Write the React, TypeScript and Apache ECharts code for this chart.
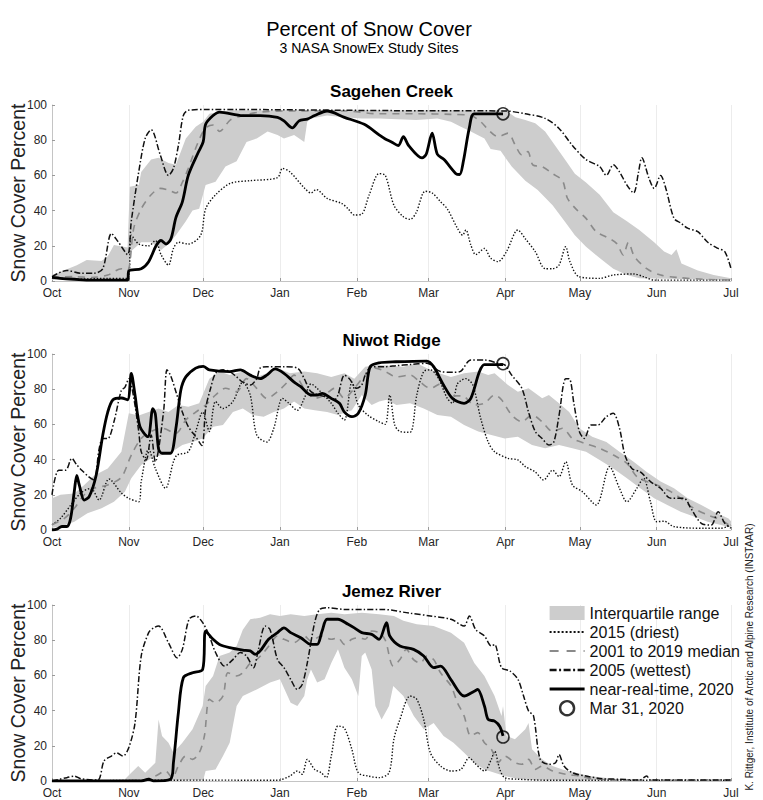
import React, { useEffect, useRef } from 'react';
import * as echarts from 'echarts';

// ---------- axis definitions ----------
const MONTH_DAYS = [0, 31, 61, 92, 123, 152, 183, 213, 244, 274];
const MONTH_NAMES = ['Oct', 'Nov', 'Dec', 'Jan', 'Feb', 'Mar', 'Apr', 'May', 'Jun', 'Jul'];
const SITE_NAMES = ['Sagehen Creek', 'Niwot Ridge', 'Jemez River'];
const MARKER_DAY = 182; // Mar 31
const MARKER_VALUES = [95, 94.5, 25];

// ---------- Sagehen Creek ----------
const sagIqrHigh = [[0,3.4],[3,5],[10,9],[14,12],[20,11.4],[22.5,14],[25,20.5],[30.5,19],[31.4,53.6],[35,54.5],[36,62],[40,69],[43,70],[47,67],[50,66],[54,81],[58,87.7],[61,90.5],[63.5,95],[72,97],[183,97],[187,93],[191,91.5],[195,89.6],[199,85],[203,77],[207,69],[211,61],[215.5,56],[221,49],[226.5,39],[232,34],[237,29],[243,22],[247,16.7],[250,14.8],[252,18],[254,10],[260.6,6],[267,3.4],[274,1.5]];
const sagIqrLow = [[0,0.5],[22.5,0.5],[30.5,1.5],[32,17],[36,22],[40,22],[44,17.6],[47,21],[50,26],[54,34],[56.7,40],[59.4,41],[62,54.5],[66,56.4],[70,65],[74.5,68],[78.5,79],[82.6,81],[87,85],[91,83],[93.6,81],[97.7,83],[101.8,79],[103,90.5],[104.5,92.4],[111,94],[118,93],[125,92.4],[132,92.4],[147,91.5],[155.5,92.4],[161,90.5],[165,87.7],[169,85],[174.5,81],[177,75],[181,74],[185.5,65],[191,57],[196,51.7],[202,43],[207,33.7],[211,26],[215.5,19.5],[221,13],[226.5,7],[232,3.4],[237,1.5],[274,0.5]];
const sagMedian = [[0,2],[9,2.5],[16,2],[22.5,3.4],[28,7],[30.5,6],[33,30],[36,41],[40,49],[43.7,52.6],[47,51.7],[50,50],[52.6,56],[55,64],[59,79],[62,87],[65,88.6],[67.6,85],[72,91.5],[77,94],[84,96],[98,96.6],[118,96.6],[132,95],[147,95],[161,94.7],[169,94],[173,90.5],[176,86],[180,82],[184,84],[187,77],[189.6,71.6],[192,73.5],[194,66],[197.8,65],[202,61],[206,57],[208,47],[211.4,41],[215.5,35.6],[219.6,28],[223.7,25],[227.8,21.4],[230.5,14.8],[232.6,22],[235,14],[240,7],[245.6,3.4],[252.4,2],[263,1],[274,0.5]];
const sag2015 = [[0,2],[9,1],[22.5,1.5],[30.5,1.5],[32,26],[35,21],[39,20],[41.7,23],[44,15],[47,9],[49,18.5],[51,22],[55,21],[60,26],[62,41],[66,49],[72,55.5],[80,57],[91,58.7],[93,64],[96,62],[102,52.6],[104.5,50],[106.6,52],[111,47],[117,44],[119.5,41],[122,37.5],[125,38],[128,49],[132,61],[134.5,60],[138,43],[141.8,36.5],[144.5,35],[147,39],[150.6,51],[153.4,50],[156.8,45],[159.5,41],[163.6,30],[165.7,26],[167,29],[169,20.5],[171,15],[174.5,18.5],[177,13],[180,11],[183.4,16.7],[188,29],[191,24],[195,16.7],[199,7],[202,7],[204.6,9],[207.3,19.5],[209,11],[212.6,2.5],[221,1.5],[226.5,3.4],[234.7,4],[238.7,2.5],[243,0.5],[274,0.5]];
const sag2005 = [[0,2.5],[6,6],[11.6,4.4],[17,4.4],[20.5,7],[24,27],[26.6,22.5],[30.5,15],[32,34],[35,62],[37.6,81],[40,86],[43.7,71.6],[47,60],[49,64],[51,77],[53,94],[55,97],[63.5,97.5],[138,96.8],[183,96.6],[191,95],[199,92.4],[204.6,86.7],[210,77],[215.5,69],[221,65],[223.7,60],[226.5,66],[229,62],[232,54.5],[234.7,50],[236.7,62],[238,70],[241,58],[243,52.6],[245.6,60],[247.7,52.6],[251,35.6],[253.7,33],[256.5,30],[260.6,28],[264.6,22],[268.8,18.5],[271.5,16.7],[274,7]];
const sag2020 = [[0,2],[3.4,1.5],[9,1],[16,0.5],[30.5,0.5],[31,5.7],[36,7],[39,11],[42,20],[44,23],[46,21],[48,24],[50,36],[52.6,45],[55,60],[59,73],[61,79],[62,89],[65,94],[67.6,96],[77,94],[84,94],[91,93],[93.6,91],[97,87],[99.7,91],[103,92],[106,94],[111,96.6],[118,93],[126,89],[132,83],[134.5,80.7],[137,79],[139.7,77],[141.8,82],[143.9,77],[149.3,70],[151,72],[153.4,84],[155.5,72],[158.2,69],[163,61],[164.5,60.5],[166,68],[168.4,87],[170.4,95],[182,95]];

// ---------- Niwot Ridge ----------
const niwIqrHigh = [[0,18],[3.4,20],[9,20.8],[13,25.6],[17,31],[22.5,35],[28,44.5],[31,66.3],[35,65],[39,67],[43,69],[47,67],[51,71],[55,70],[59.4,72],[63.5,86],[67.6,90],[71.7,88],[77,90],[82.6,87],[86.7,89],[91,92],[96,89],[101.8,90],[107,89],[112.7,87],[118,89],[122,86],[126.4,92.8],[132,93.8],[141.8,92.8],[147.2,94.7],[154,90],[161,87],[166.3,89],[172,90],[176,88],[178.6,89],[184,82.4],[188,78.6],[192.3,80.5],[197.8,74.8],[200.5,76.7],[204.6,72],[208.7,67],[212.8,57.8],[218,53],[223.7,50],[229,44.5],[234.7,38.8],[240,33],[245.6,27.5],[251,23.7],[256.5,18],[262,14.2],[267,10.4],[273,6.6],[274,5]];
const niwIqrLow = [[0,1.3],[3.4,1.9],[9,4.7],[14.3,9.5],[20,12.3],[25,16],[29.4,21.8],[32,29.4],[36,37],[40,40.7],[44.4,42.6],[48.5,44.5],[52.6,48.3],[56.7,50],[60.8,52],[65,58.7],[69,59.7],[73,67],[77,69],[81,65.3],[85.4,64.4],[89.5,67],[93.6,69],[97.7,73],[101.8,69],[106,68],[111,67],[115.4,65.3],[121,68],[125,76.7],[129,71],[132,73],[135,74],[139,71],[144.5,72],[150,69],[155.5,65.3],[161,64.4],[166.3,59.7],[172,56],[177.3,54],[182.7,52],[188,53],[193.7,48.3],[199,46.4],[204.6,48.3],[210,46.4],[215.5,44.5],[221,39.8],[226.5,35],[232,29.4],[237.4,23.7],[243,18],[248.3,14.2],[253.7,10.4],[259,7.6],[264.6,4.7],[270,2.8],[274,1.3]];
const niwMedian = [[0,3],[5,6.6],[9,12.3],[13,20],[17,23.7],[22.5,25.6],[28,30],[32,42.6],[36,52],[40,56],[44.4,57.8],[50,55],[54,62.5],[58,67],[62,71],[66,76.7],[70,80.5],[74.5,78.6],[78.5,86],[82.6,80.5],[86.7,74.8],[91,78.6],[95,84],[97.7,88],[101.8,80.5],[106,74.8],[110,76.7],[114,80.5],[118,74.8],[122,80.5],[126.4,88],[130.5,92],[134.5,90],[139,87],[144.5,88],[148.6,84],[152.7,80.5],[156.8,83],[161,76.7],[166.3,75.8],[170.4,71],[174.5,72],[178.6,76.7],[181.4,74],[185.5,65.3],[189.6,61.5],[193.7,65.3],[197.8,61.5],[202,56],[206,57.8],[210,52],[215.5,49],[221,46.4],[226.5,42.6],[232,37.9],[236,30.3],[240,27.5],[244,25.6],[249.7,21.8],[253.7,18],[259,12.3],[264.6,8.5],[270,5.7],[274,1.9]];
const niw2015 = [[0,3],[3.4,6.6],[7.5,14],[11.6,21],[15.7,23.7],[19,17],[23,29],[28,21],[31,18],[35,16],[36,27.5],[39,46],[41.7,35],[45.8,23.7],[49,38.8],[50.5,42.6],[55,44.5],[58,56],[60.8,67],[63.5,56],[66,73],[69,69],[73,73],[77,84],[80,76.7],[82.6,54],[86.7,50],[89.5,57.8],[93,74.8],[95.6,72],[99,68],[101.8,74.8],[104.5,83],[107,80.5],[112.7,72],[115.4,66.3],[118,62.5],[121,84],[123.6,71],[127.7,65],[132,61.5],[134.5,60],[136.3,76.7],[138.3,59.7],[140.4,56],[144.5,55.5],[147.2,76.7],[150,90],[152.7,91],[156,86],[159.5,74.8],[161.6,72],[163.6,83],[167,86],[169.8,82.4],[173,63.4],[176,50],[178.6,44.5],[184,40.7],[188,39.8],[191,36],[195,33],[198.4,28.4],[202,34],[204.6,30.3],[207.3,38.8],[210,25.6],[214,21.8],[219.6,14.2],[225,36],[229,23.7],[232,16],[236,23.7],[238.7,29.4],[241.5,16],[244,4.7],[247,5],[251,1.9],[263,1],[270,1],[274,2.8]];
const niw2005 = [[0,20],[2.7,34],[5.5,34],[8,40.7],[10,37],[12,34],[15,30],[17,28.4],[19,46],[20.5,52],[22.5,52],[25,61.5],[28,79.5],[29.4,81],[31,86],[32.8,76.7],[35,56],[36,44.5],[38,39.8],[40,54],[41.7,38.8],[45,67],[46.4,91],[47.8,88],[50,78.6],[52.6,67],[55,58.7],[58,53],[60.5,48],[62,69],[64,80.5],[66,89],[69,91],[71.7,90],[74.5,87],[77,84],[80,82.4],[82.6,86],[84,92],[86.7,92.8],[93.6,92.8],[99,92],[101.8,86],[104.5,78.6],[110,75.8],[114,74],[115.4,76.7],[118,88],[120,86],[123,80.5],[125,82.4],[126.4,88],[129,92.8],[134.5,92.8],[139,93.4],[144.5,94],[151.3,94.7],[156.8,90],[162,89.6],[165,90.3],[169,96.6],[174.5,96.6],[180,94.7],[182.7,93.8],[185.5,88],[189.6,80.5],[192.3,67],[195,56],[197.8,52],[200.5,48.3],[202.5,50],[204.6,65],[207.3,86],[208.7,86],[210.7,71],[212.8,56],[214.8,52],[217.6,59.7],[220.3,59.7],[223.7,64.4],[226.5,66.3],[229,57.8],[231.2,42.6],[234,35],[237.4,33],[241.5,27.5],[245.6,23.7],[249.7,18],[255,18],[257.8,12.3],[262,3.8],[266,2.8],[268.8,10.4],[271.5,3.8],[274,1]];
const niw2020 = [[0,0],[2,0.5],[4,2],[6,2],[7.5,6.6],[9,22],[10,31],[11,25.6],[13,17],[15,19],[17.8,31],[20.5,54],[22.5,67],[24.6,74],[28,75],[30.5,74],[32,89],[33.5,76.7],[35.5,58.7],[38.7,53],[40.7,69],[41.7,66],[43,46],[44.4,43.6],[47.8,43.6],[50,57.8],[52,79.5],[54,87],[58,92],[61,93],[63.5,91],[71.7,90],[76,91],[80,88],[84,86],[86.7,88],[90,91.5],[93.6,89],[97.7,84],[100.4,81.4],[104.5,76.7],[107,76.7],[109,77.6],[112.7,74.8],[116,72],[118,67],[121,64.4],[123.6,66.3],[126.4,76.7],[128.4,92.8],[132,95],[138.7,95.6],[151.3,96],[154,92.8],[158,82.4],[161.6,74.8],[166.3,72],[169,74.8],[172.5,90],[174.5,94],[182,94]];

// ---------- Jemez River ----------
const jemIqrHigh = [[0,0.4],[29,0.4],[32,4.7],[34.8,8.5],[37.6,4.7],[41.7,10.4],[43,35],[44.4,25.6],[47,21.8],[49,16],[52.6,21.8],[56.7,29.4],[60.8,42.6],[62,54],[65,59.7],[67.6,71],[71.7,73],[74.5,76.7],[77,86],[80,91.9],[84,92.8],[88,94.7],[92,93.8],[96.3,94.7],[101.8,93.8],[107,94.7],[112.7,95.6],[118,94.7],[125,95.6],[132,94.7],[138,93.8],[141.8,91],[147.2,89],[154,88],[161,84.3],[166.3,78.6],[170.4,67],[174.5,59.7],[178.6,48.3],[181.4,37],[182,42.6],[183.4,25.6],[186.8,23.7],[191,29.4],[192.3,33],[193.7,18],[197.8,12.3],[202,8.5],[206,6.6],[211.4,4.7],[216.9,2.8],[226.5,1.3],[237,0.4],[274,0.4]];
const jemIqrLow = [[0,0],[61,0.4],[62,5.7],[66,6.6],[69,14.2],[71.7,21.8],[74.5,42.6],[77,48.3],[82.6,52],[88,56],[92,57.8],[96.3,44.5],[99,42.6],[101.8,48.3],[103,57.8],[104.5,63.4],[107,56],[110,57.8],[112.7,67],[115.4,74.8],[118,64.4],[121,57.8],[123.6,48.3],[125,71],[126.4,73],[129,63.4],[130.5,42.6],[133,35],[136,42.6],[137.7,54],[141.8,48.3],[146,37],[150,29.4],[154,33],[158,25.6],[162,21.8],[166.3,16],[170.4,10.4],[174.5,6.6],[178.6,4.7],[182.7,2.8],[188,1.3],[195,0.4],[274,0.4]];
const jemMedian = [[0,0],[36,0.4],[41.7,2.8],[45.8,5.7],[48.5,1.9],[51,8.5],[54,14.2],[56.7,12.3],[59.4,16],[61.5,25.6],[63.5,46.4],[66,44.5],[69,48.3],[71,61.5],[74.5,59.7],[77,61.5],[80,67],[82.6,69],[85.4,73],[88,77.6],[91,82.4],[93.6,80.5],[97.7,78.6],[101.8,82.4],[104.5,79.5],[108.6,82.4],[112.7,80.5],[115.4,81.4],[118,77.6],[121,80.5],[123.6,81.4],[126.4,80.5],[129,85.2],[132,84.3],[134.5,80],[137.7,65.3],[140.4,69],[143,74.8],[145.9,69],[148.6,67],[151.3,71],[154,69],[156.8,61.5],[161,54],[163.6,44.5],[166.3,37],[169,25.6],[171.8,27.5],[174.5,21.8],[177.3,18],[180,10.4],[182.7,14.2],[186.8,10.4],[189.6,9.5],[192.3,12.3],[195,6.6],[197.8,8.5],[202,5.7],[207.3,3.8],[212.8,2.8],[218,1.3],[229,0.4],[274,0.4]];
const jem2015 = [[0,0],[63.5,0.5],[91,0.4],[96,2.8],[99,5.7],[101,3.8],[103,12.3],[106,6.6],[108.6,4.7],[110.7,1.9],[112.7,14.2],[115.4,31.3],[118,30],[121,18],[123.6,4.7],[127.7,2.8],[132,1.9],[136,4.7],[138,24],[140.4,35],[144.5,48.3],[147.2,46.4],[150,35],[152.7,16],[156.8,8.5],[161,5.7],[165,6.6],[168.4,13.3],[170.4,10.4],[174.5,5.7],[177.3,12.3],[178.6,17],[180.7,6.6],[182.7,1.9],[188,1],[202,0.4],[274,0.4]];
const jem2005 = [[0,0],[6,1.9],[9,2.8],[11.6,1.3],[18.4,0.5],[21,11.4],[24,14.2],[26,16],[28.7,14.2],[31,19],[33.5,33],[36,71],[39,84.3],[41,87],[43,88],[47,78.6],[50.5,70],[52.6,74.8],[55.3,91.9],[58,93.8],[60.8,90],[63.5,82.4],[66,73],[69.7,65.3],[73,69],[76,73],[78.5,71],[81.3,64.4],[83.3,74.8],[86,88],[88,86],[91,69],[93.6,64.4],[96.3,57.8],[99,52],[101,55],[103,67],[106,90],[108,97.5],[111,98.5],[118,97.5],[126,97.5],[133.5,97.5],[144.5,95.3],[152.7,93.8],[161,91.9],[166.3,88],[168.4,93.8],[171,86],[174.5,82.4],[177.3,76.7],[178.6,77.6],[181.4,64.4],[184.8,62.5],[188,57.8],[190.3,48.3],[192.3,39.8],[194.3,37],[197,12.3],[200.5,9.5],[203.2,10.4],[204.6,15],[206.6,8.5],[210,4.7],[215.5,2.8],[222,1.3],[229,1],[237,0.5],[240,2.8],[241.5,0.5],[274,0.5]];
const jem2020 = [[0,0],[36,0],[39,1],[41,0],[47.8,1],[49,10.4],[51,38.8],[53,58.7],[56.7,61.5],[60.8,63.4],[62,85.2],[65,80.5],[67.6,77.6],[71.7,75.8],[77,74.4],[80,73.9],[82,72],[84,73.9],[87.4,80.5],[91,84.3],[93.6,87],[96.3,84.3],[100.4,81.4],[104.5,77.6],[107,77.6],[109,85.2],[111,91.9],[115.4,91.9],[119.5,89],[122,87],[125,84.3],[129,83.3],[132,80.5],[135,90],[136.3,82.4],[140.4,76.7],[145.9,74.8],[150,71],[154,64.4],[156.8,65.3],[160.9,57.8],[166.3,48.3],[170.4,51],[171.8,52],[174.5,42.6],[176,35],[178.6,34],[180.7,31],[182,25.6]];

const PANELS = [
  { high: sagIqrHigh, low: sagIqrLow, median: sagMedian, dry: sag2015, wet: sag2005, now: sag2020 },
  { high: niwIqrHigh, low: niwIqrLow, median: niwMedian, dry: niw2015, wet: niw2005, now: niw2020 },
  { high: jemIqrHigh, low: jemIqrLow, median: jemMedian, dry: jem2015, wet: jem2005, now: jem2020 },
];

const FONT = '"Liberation Sans", Arial, Helvetica, sans-serif';
const GRID_TOPS = [105, 354, 605];
const GRID_LEFT = 52;
const GRID_WIDTH = 679;
const GRID_HEIGHT = 176;
const HIDDEN_SYMBOL = { color: 'rgba(0,0,0,0)', borderWidth: 0, opacity: 0 };

export default function App() {
  const ref = useRef<HTMLDivElement>(null);
  useEffect(() => {
    document.body.style.margin = '0';
    const chart = echarts.init(ref.current!, null, { renderer: 'svg' });

    const grids = GRID_TOPS.map((top) => ({ left: GRID_LEFT, top, width: GRID_WIDTH, height: GRID_HEIGHT }));
    const xAxes = GRID_TOPS.map((_, i) => ({
      type: 'value', gridIndex: i, min: 0, max: 274,
      axisLine: { show: true, lineStyle: { color: '#c4c4c4', width: 1 } },
      axisTick: { show: true, inside: true, length: 3, lineStyle: { color: '#9a9a9a' }, customValues: MONTH_DAYS },
      axisLabel: {
        customValues: MONTH_DAYS, margin: 6, fontSize: 12, color: '#262626', fontFamily: FONT,
        formatter: (v: number) => MONTH_NAMES[MONTH_DAYS.indexOf(Math.round(v))] ?? '',
      },
      splitLine: { show: true, lineStyle: { color: '#ececec', width: 1 } },
    }));
    const yAxes = GRID_TOPS.map((_, i) => ({
      type: 'value', gridIndex: i, min: 0, max: 100, interval: 20,
      axisLine: { show: true, lineStyle: { color: '#c4c4c4', width: 1 } },
      axisTick: { show: true, inside: true, length: 3, lineStyle: { color: '#9a9a9a' } },
      axisLabel: { margin: 5, fontSize: 12, color: '#262626', fontFamily: FONT },
      splitLine: { show: false },
    }));

    const series: any[] = [];
    PANELS.forEach((p, i) => {
      const high = p.high;
      const low = p.low;
      series.push({
        type: 'custom', name: 'Interquartile range', xAxisIndex: i, yAxisIndex: i, z: 1,
        itemStyle: { color: '#cdcdcd' },
        data: [[0, 0]],
        renderItem: (_params: any, api: any) => {
          const pts = high.map((d) => api.coord(d)).concat(low.slice().reverse().map((d) => api.coord(d)));
          return { type: 'polygon', shape: { points: pts }, style: { fill: '#cdcdcd' } };
        },
      });
      series.push({
        type: 'line', name: '2015 (driest)', xAxisIndex: i, yAxisIndex: i, z: 3,
        data: p.dry, symbol: 'none', showSymbol: false, smooth: 0.3,
        lineStyle: { color: '#111', width: 1.4, type: [1.4, 1.8] }, itemStyle: { color: '#111' },
      });
      series.push({
        type: 'line', name: '2001 to 2019 median', xAxisIndex: i, yAxisIndex: i, z: 3,
        data: p.median, symbol: 'none', showSymbol: false, smooth: 0.3,
        lineStyle: { color: '#8a8a8a', width: 1.6, type: [7, 6] }, itemStyle: { color: '#8a8a8a' },
      });
      series.push({
        type: 'line', name: '2005 (wettest)', xAxisIndex: i, yAxisIndex: i, z: 4,
        data: p.wet, symbol: 'none', showSymbol: false, smooth: 0.3,
        lineStyle: { color: '#111', width: 1.5, type: [6, 2.2, 1.5, 2.2] }, itemStyle: { color: '#111' },
      });
      series.push({
        type: 'line', name: 'near-real-time, 2020', xAxisIndex: i, yAxisIndex: i, z: 5,
        data: p.now, symbol: 'none', showSymbol: false, smooth: 0.3,
        lineStyle: { color: '#000', width: 2.8 }, itemStyle: { color: '#000' },
      });
      series.push({
        type: 'scatter', name: 'Mar 31, 2020', xAxisIndex: i, yAxisIndex: i, z: 6,
        data: [[MARKER_DAY, MARKER_VALUES[i]]], symbol: 'circle', symbolSize: 12,
        itemStyle: { color: 'rgba(0,0,0,0)', borderColor: '#000', borderWidth: 1.6 },
      });
    });

    const graphics: any[] = [
      { type: 'text', x: 369, y: 29, style: { text: 'Percent of Snow Cover', fontSize: 20, fontFamily: FONT, fill: '#000', textAlign: 'center', textVerticalAlign: 'middle' } },
      { type: 'text', x: 369, y: 48, style: { text: '3 NASA SnowEx Study Sites', fontSize: 14, fontFamily: FONT, fill: '#000', textAlign: 'center', textVerticalAlign: 'middle' } },
      { type: 'text', x: 749, y: 657, rotation: Math.PI / 2, style: { text: 'K. Rittger, Institute of Arctic and Alpine Research (INSTAAR)', fontSize: 10, fontFamily: FONT, fill: '#222', textAlign: 'center', textVerticalAlign: 'middle' } },
    ];
    GRID_TOPS.forEach((top, i) => {
      graphics.push({ type: 'text', x: GRID_LEFT + GRID_WIDTH / 2, y: top - 14, style: { text: SITE_NAMES[i], fontSize: 17, fontWeight: 'bold', fontFamily: FONT, fill: '#000', textAlign: 'center', textVerticalAlign: 'middle' } });
      graphics.push({ type: 'text', x: 18, y: top + GRID_HEIGHT / 2, rotation: Math.PI / 2, style: { text: 'Snow Cover Percent', fontSize: 19.5, fontFamily: FONT, fill: '#222', textAlign: 'center', textVerticalAlign: 'middle' } });
    });

    chart.setOption({
      animation: false,
      textStyle: { fontFamily: FONT },
      grid: grids,
      xAxis: xAxes,
      yAxis: yAxes,
      legend: {
        orient: 'vertical', left: 543, top: 600, itemWidth: 35, itemHeight: 14, itemGap: 3,
        selectedMode: false,
        textStyle: { fontSize: 16, color: '#111', fontFamily: FONT },
        data: [
          { name: 'Interquartile range', icon: 'rect', itemStyle: { color: '#cdcdcd' } },
          { name: '2015 (driest)', itemStyle: HIDDEN_SYMBOL, lineStyle: { width: 2.2, type: [2, 2] } },
          { name: '2001 to 2019 median', itemStyle: HIDDEN_SYMBOL, lineStyle: { width: 2.2, type: [9, 8] } },
          { name: '2005 (wettest)', itemStyle: HIDDEN_SYMBOL, lineStyle: { width: 2.4, type: [7, 2.5, 2, 2.5] } },
          { name: 'near-real-time, 2020', itemStyle: HIDDEN_SYMBOL, lineStyle: { width: 3.2 } },
          { name: 'Mar 31, 2020', itemStyle: { color: 'rgba(0,0,0,0)', borderColor: '#000', borderWidth: 2.4 } },
        ],
      },
      graphic: graphics,
      series,
    });
    return () => chart.dispose();
  }, []);
  return <div ref={ref} style={{ width: 763, height: 800 }} />;
}
